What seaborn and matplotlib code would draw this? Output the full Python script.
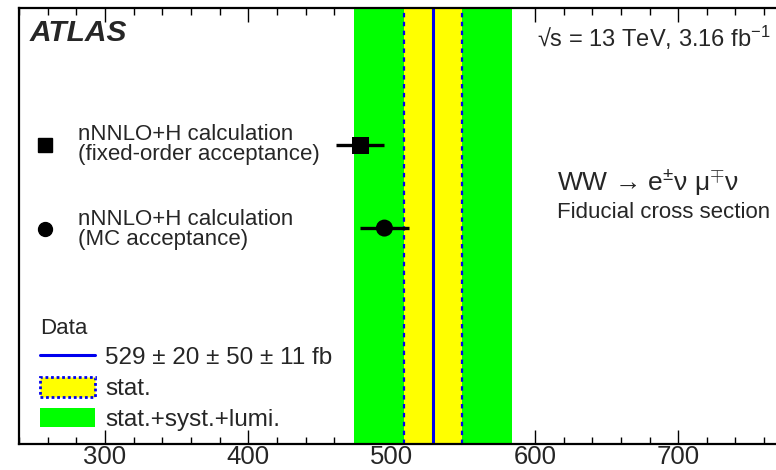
import numpy as np
import pandas as pd
import matplotlib
matplotlib.use("Agg")
import matplotlib.pyplot as plt
from matplotlib.lines import Line2D
from matplotlib.patches import Patch
from matplotlib.ticker import MultipleLocator
import seaborn as sns

# ---- data ----
data_value = 529.0
data_stat = 20.0
data_syst = 50.0
data_lumi = 11.0

pred_labels = ["nNNLO+H calculation\n(fixed-order acceptance)",
               "nNNLO+H calculation\n(MC acceptance)"]
pred_values = [478.0, 495.0]
pred_errors = [17.0, 17.0]
pred_markers = ["s", "o"]

x_ticks = [300, 400, 500, 600, 700]

# ---- style ----
sns.set_theme(style="ticks")
plt.rcParams["font.family"] = ["Liberation Sans", "DejaVu Sans"]
plt.rcParams["mathtext.fontset"] = "custom"
plt.rcParams["mathtext.rm"] = "Liberation Sans"
plt.rcParams["mathtext.it"] = "Liberation Sans:italic"
plt.rcParams["mathtext.sf"] = "Liberation Sans"

W, H = 776, 470
fig = plt.figure(figsize=(W / 100, H / 100), dpi=100)

ax_left, ax_top, ax_bottom = 19, 8, 444
px_per_unit = 143.3 / 100.0
xmin, xmax = 240, 800
ax_w = (xmax - xmin) * px_per_unit
ax = fig.add_axes([ax_left / W, (H - ax_bottom) / H, ax_w / W, (ax_bottom - ax_top) / H])

green = "#00FF00"
yellow = "#FFFF00"
blue = "#0000EE"

total = np.sqrt(data_stat ** 2 + data_syst ** 2 + data_lumi ** 2)
ax.axvspan(data_value - total, data_value + total, color=green, lw=0, zorder=1)
ax.axvspan(data_value - data_stat, data_value + data_stat, color=yellow, lw=0, zorder=2)
for xv in (data_value - data_stat, data_value + data_stat):
    ax.axvline(xv, color=blue, lw=1.6, ls=(0, (2, 2)), zorder=3)
ax.axvline(data_value, color=blue, lw=2.2, zorder=3)

# predictions (rows)
row_y = [1.0, 0.0]
df = pd.DataFrame({"x": pred_values, "y": row_y, "err": pred_errors,
                   "kind": pred_labels})
ax.errorbar(df["x"], df["y"], xerr=df["err"], fmt="none", ecolor="black",
            elinewidth=2.4, capsize=0, zorder=4)
sns.scatterplot(data=df, x="x", y="y", style="kind",
                markers=dict(zip(pred_labels, pred_markers)),
                color="black", s=150, edgecolor="black", linewidth=0,
                legend=False, ax=ax, zorder=5)

ax.set_xlim(xmin, xmax)
ax.set_ylim(-2.6, 2.65)
ax.set_xticks(x_ticks)
ax.set_xticklabels([str(t) for t in x_ticks])
ax.xaxis.set_minor_locator(MultipleLocator(20))
ax.set_yticks([])
ax.set_xlabel("")
ax.set_ylabel("")
ax.tick_params(axis="x", which="major", direction="in", top=True, bottom=True,
               length=10, width=1.0, labelsize=18.5, pad=0.5, color="black")
ax.tick_params(axis="x", which="minor", direction="in", top=True, bottom=True,
               length=5, width=1.0, color="black")
for sp in ax.spines.values():
    sp.set_linewidth(1.6)
    sp.set_color("black")
    sp.set_zorder(6)

# texts
fig.text(30 / W, 1 - 33 / H, "ATLAS", fontsize=21.5, fontweight="bold",
         fontstyle="italic", va="center", ha="left")
fig.text(537 / W, 1 - 38 / H, "\u221as = 13 TeV, 3.16 fb$^{-1}$",
         fontsize=17, va="center", ha="left")
fig.text(557 / W, 1 - 182 / H, "WW \u2192 e$^{\\pm}$\u03bd \u03bc$^{\\mp}$\u03bd",
         fontsize=19, va="center", ha="left")
fig.text(557 / W, 1 - 212 / H, "Fiducial cross section",
         fontsize=16, va="center", ha="left")

# legend 1 (predictions)
h1 = [Line2D([], [], marker=m, ls="none", color="black", markersize=10)
      for m in pred_markers]
leg1 = fig.legend(h1, pred_labels, loc="upper left",
                  bbox_to_anchor=(35 / W, 1 - 124 / H), bbox_transform=fig.transFigure,
                  frameon=False, fontsize=16, handlelength=0.9, handletextpad=1.04,
                  labelspacing=1.95, borderpad=0, borderaxespad=0)
for t in leg1.get_texts():
    t.set_linespacing(0.95)

# legend 2 (data)
h2 = [Line2D([], [], color=blue, lw=2.2),
      Patch(facecolor=yellow, edgecolor=blue, lw=2.0, ls=(0, (1.0, 1.0))),
      Patch(facecolor=green, edgecolor=green, lw=0)]
l2 = [f"{data_value:.0f} \u00b1 {data_stat:.0f} \u00b1 {data_syst:.0f} \u00b1 {data_lumi:.0f} fb",
      "stat.", "stat.+syst.+lumi."]
leg2 = fig.legend(h2, l2, loc="upper left", title="Data", alignment="left",
                  bbox_to_anchor=(40 / W, 1 - 317.5 / H), bbox_transform=fig.transFigure,
                  frameon=False, fontsize=17.5, title_fontsize=16,
                  handlelength=2.25, handleheight=0.85, handletextpad=0.42,
                  labelspacing=0.32, borderpad=0, borderaxespad=0)

fig.savefig("out.png", dpi=100)
